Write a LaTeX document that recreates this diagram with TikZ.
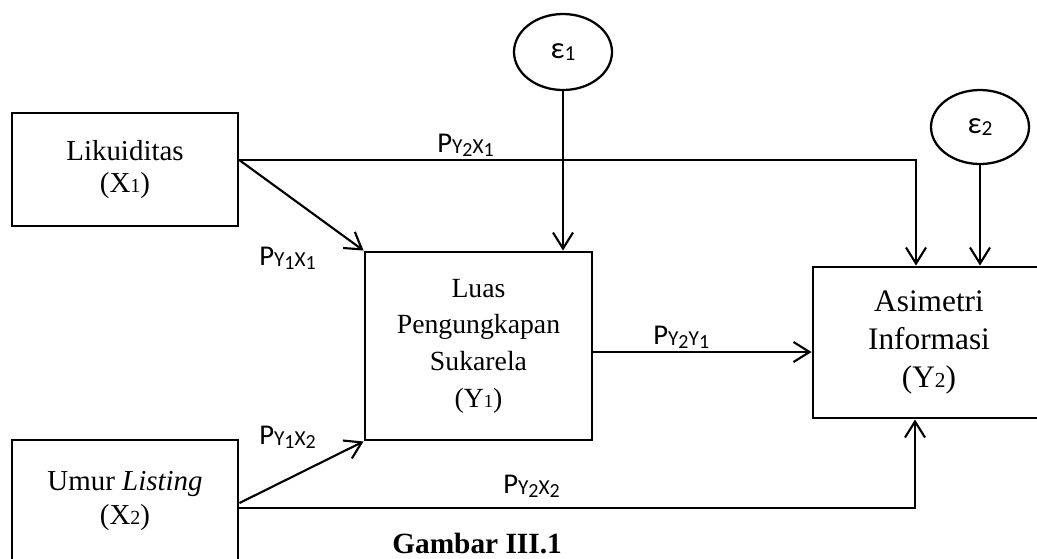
\documentclass[tikz,border=0pt]{standalone}
\usepackage{fontspec}
\setmainfont{Liberation Serif}
\newfontfamily\calfont{Carlito}
\usetikzlibrary{arrows.meta,shapes.geometric}
\newcommand\dsub[2]{{\fontsize{#2}{#2}\selectfont #1}}
\newcommand\pl[4]{{\calfont\fontsize{21.5}{21.5}\selectfont P\raisebox{-1.3pt}{\fontsize{16}{16}\selectfont #1}\raisebox{-3pt}{\fontsize{15}{15}\selectfont #2}\raisebox{-1.3pt}{\fontsize{16}{16}\selectfont #3}\raisebox{-3pt}{\fontsize{15}{15}\selectfont #4}}}
\begin{document}
\begin{tikzpicture}[x=0.75pt,y=-0.75pt,
  box/.style={draw,line width=2.2pt,inner sep=0pt,align=center},
  err/.style={ellipse,draw,line width=1.7pt,inner sep=0pt,minimum width=73.5pt,font=\calfont\fontsize{23}{23}\selectfont},
  conn/.style={line width=1.6pt,-{Straight Barb[length=12pt,width=15pt,line width=1.6pt]}},
  plabel/.style={anchor=base west,inner sep=0pt}]
\useasboundingbox (0,0) rectangle (1037,558);
\begin{scope}
\clip (0,0) rectangle (1037,558);
\node[box,minimum width=169.5pt,minimum height=84.75pt,font=\fontsize{21.7}{24}\selectfont] (X1) at (125,169.5) {Likuiditas\\(X\dsub{1}{15})};
\node[box,minimum width=169.5pt,minimum height=91.5pt,font=\fontsize{21.7}{25}\selectfont] (X2) at (125,501) {Umur \textit{Listing}\\(X\dsub{2}{15})};
\node[box,minimum width=170.25pt,minimum height=141pt,font=\fontsize{20.8}{27.5}\selectfont] (Y1) at (478.5,346) {Luas\\Pengungkapan\\Sukarela\\(Y\dsub{1}{14})};
\node[box,minimum width=174pt,minimum height=113.25pt,font=\fontsize{23.5}{28.5}\selectfont] (Y2) at (929,342.5) {Asimetri\\Informasi\\(Y\dsub{2}{16})};
\node[err,minimum height=57pt] (e1) at (563,52) {ε\raisebox{-2pt}{\fontsize{16}{16}\selectfont 1}};
\node[err,minimum height=55.5pt] (e2) at (980,127) {ε\raisebox{-2pt}{\fontsize{16}{16}\selectfont 2}};

\coordinate (s1) at ([yshift=7pt]X1.east);
\coordinate (s2) at ([yshift=-1.5pt]X2.east);
\coordinate (s4) at ([yshift=-5.25pt]X2.east);
\coordinate (s3) at ([yshift=-4.5pt]Y1.east);
\coordinate (t1) at ([xshift=-9.75pt]Y2.north);
\coordinate (t2) at ([xshift=-10.5pt]Y2.south);

\draw[conn] (s1) -- (Y1.north west);
\draw[conn] (s1) -| (t1);
\draw[conn] (e1.south) -- (e1.south |- Y1.north);
\draw[conn] (e2.south) -- (e2.south |- Y2.north);
\draw[conn] (s3) -- (s3 -| Y2.west);
\draw[conn] (s2) -- (Y1.south west);
\draw[conn] (s4) -| (t2);

\node[plabel] (l1) at (437,152) {\pl{Y}{2}{X}{1}};
\node[plabel] (l2) at (259,265) {\pl{Y}{1}{X}{1}};
\node[plabel] (l3) at (653,344) {\pl{Y}{2}{Y}{1}};
\node[plabel] (l4) at (259,444) {\pl{Y}{1}{X}{2}};
\node[plabel] (l5) at (503,493) {\pl{Y}{2}{X}{2}};
\node[anchor=base west,inner sep=0pt,font=\bfseries\fontsize{22}{22}\selectfont] (cap) at (392,553) {Gambar III.1};
\end{scope}
\end{tikzpicture}
\end{document}
